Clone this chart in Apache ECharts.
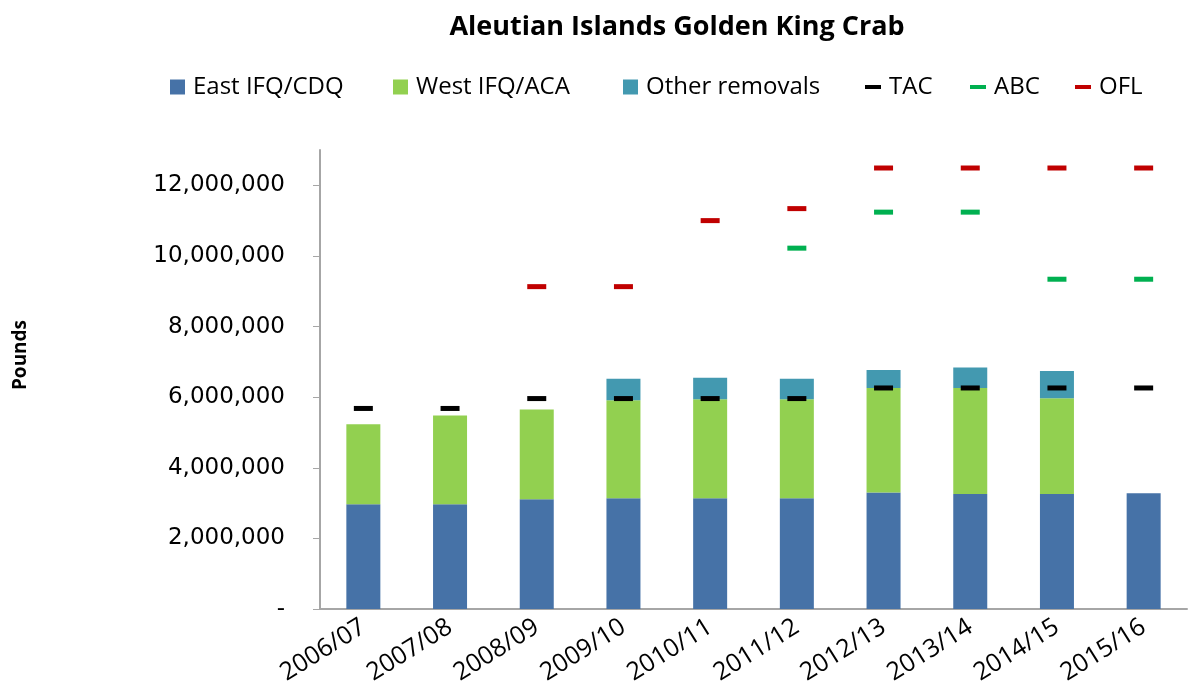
<!DOCTYPE html>
<html>
<head>
<meta charset="utf-8">
<script src="https://cdn.jsdelivr.net/npm/echarts@6/dist/echarts.min.js"></script>
<style>
  html, body { margin: 0; padding: 0; background: #fff; }
  #main { width: 1200px; height: 694px; }
</style>
</head>
<body>
<div id="main"></div>
<script>
var seasons = ['2006/07', '2007/08', '2008/09', '2009/10', '2010/11', '2011/12', '2012/13', '2013/14', '2014/15', '2015/16'];
var east = [2970000, 2970000, 3110000, 3140000, 3140000, 3140000, 3300000, 3260000, 3260000, 3280000];
var west = [2260000, 2510000, 2540000, 2770000, 2800000, 2800000, 2960000, 3000000, 2710000, 0];
var other = [0, 0, 0, 610000, 610000, 580000, 510000, 580000, 770000, 0];
var tac = [5680000, 5680000, 5960000, 5960000, 5960000, 5960000, 6260000, 6260000, 6260000, 6260000];
var abc = [null, null, null, null, null, 10220000, 11240000, 11240000, 9340000, 9340000];
var ofl = [null, null, 9130000, 9130000, 11000000, 11340000, 12490000, 12490000, 12490000, 12490000];
var yTicks = [0, 2000000, 4000000, 6000000, 8000000, 10000000, 12000000];

var font = 'Open Sans';

function fmt(v) {
    if (v === 0) return '-';
    return String(v).replace(/\B(?=(\d{3})+(?!\d))/g, ',');
}

function marker(name, color, data) {
    return {
        name: name,
        type: 'scatter',
        symbol: 'rect',
        symbolSize: [19, 5],
        itemStyle: { color: color, opacity: 1 },
        data: data,
        z: 5
    };
}

// one legend per item so each sits where the reference puts it
function legendItem(name, left, w, h) {
    return {
        left: left,
        top: 70,
        itemWidth: w,
        itemHeight: h,
        textStyle: { fontFamily: font, fontSize: 24, color: '#000', padding: [0, 0, 0, 3] },
        data: [{ name: name, icon: 'rect' }]
    };
}

var chart = echarts.init(document.getElementById('main'));
chart.setOption({
    animation: false,
    title: {
        text: 'Aleutian Islands Golden King Crab',
        left: 672,
        textAlign: 'center',
        top: 9,
        textStyle: { fontFamily: font, fontSize: 27, fontWeight: 'bold', color: '#000' }
    },
    legend: [
        legendItem('East IFQ/CDQ', 165, 15, 15),
        legendItem('West IFQ/ACA', 388, 15, 15),
        legendItem('Other removals', 618, 15, 15),
        legendItem('TAC', 860, 16, 4),
        legendItem('ABC', 965, 16, 4),
        legendItem('OFL', 1070, 16, 4)
    ],
    graphic: [{
        type: 'text',
        x: 21,
        y: 355,
        rotation: Math.PI / 2,
        style: {
            text: 'Pounds',
            fontFamily: font,
            fontSize: 19,
            fontWeight: 'bold',
            fill: '#000',
            align: 'center',
            verticalAlign: 'middle'
        }
    }],
    grid: {
        left: 320,
        right: 13,
        top: 150,
        bottom: 85
    },
    xAxis: {
        type: 'category',
        data: seasons,
        axisLine: { lineStyle: { color: '#a6a6a6', width: 2 } },
        axisTick: { length: 8, lineStyle: { color: '#a6a6a6' } },
        axisLabel: {
            rotate: 32,
            margin: 16,
            fontFamily: font,
            fontSize: 25,
            color: '#000'
        }
    },
    yAxis: {
        type: 'value',
        min: 0,
        max: 13000000,
        interval: 2000000,
        splitLine: { show: false },
        axisLine: { show: true, lineStyle: { color: '#a6a6a6', width: 2 } },
        axisTick: { show: true, length: 7, customValues: yTicks, lineStyle: { color: '#a6a6a6' } },
        axisLabel: {
            customValues: yTicks,
            margin: 35,
            fontFamily: 'DejaVu Sans',
            fontSize: 23,
            color: '#000',
            formatter: fmt
        }
    },
    series: [
        { name: 'East IFQ/CDQ', type: 'bar', stack: 'catch', barWidth: 34, itemStyle: { color: '#4672a7' }, data: east },
        { name: 'West IFQ/ACA', type: 'bar', stack: 'catch', barWidth: 34, itemStyle: { color: '#92d050' }, data: west },
        { name: 'Other removals', type: 'bar', stack: 'catch', barWidth: 34, itemStyle: { color: '#4399b0' }, data: other },
        marker('TAC', '#000000', tac),
        marker('ABC', '#00b050', abc),
        marker('OFL', '#c00000', ofl)
    ]
});
</script>
</body>
</html>
